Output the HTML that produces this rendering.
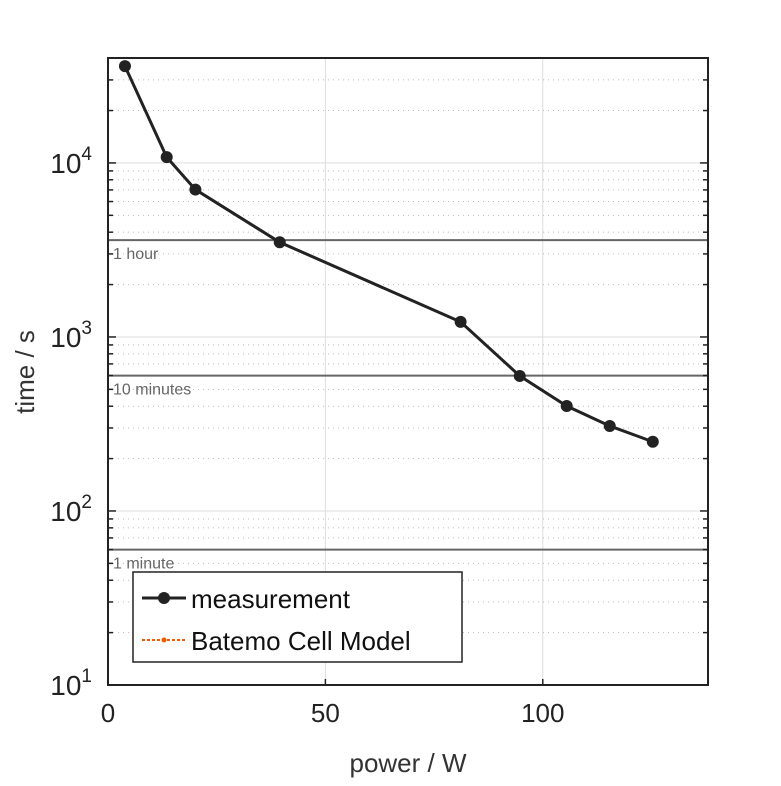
<!DOCTYPE html>
<html><head><meta charset="utf-8"><style>
body{margin:0;background:#fff;}
text{font-family:"Liberation Sans",sans-serif;}
</style></head><body>
<svg id="chart" width="781" height="781" xmlns="http://www.w3.org/2000/svg">
<g id="grid"></g>
<g id="refs"></g>
<g id="series"></g>
<rect x="108" y="58" width="600" height="627" fill="none" stroke="#222" stroke-width="2"/>
<g id="ticks"></g>
<text x="408" y="772" font-size="26" fill="#333" text-anchor="middle">power / W</text>
<text transform="translate(34,372) rotate(-90)" font-size="26" fill="#333" text-anchor="middle">time / s</text>
<g>
<rect x="133" y="572" width="329" height="90" fill="#fff" stroke="#222" stroke-width="1.5"/>
<line x1="142" y1="598" x2="186" y2="598" stroke="#222" stroke-width="3"/>
<circle cx="164" cy="598" r="6" fill="#222"/>
<text x="191" y="608" font-size="26" fill="#111">measurement</text>
<line x1="142" y1="640" x2="186" y2="640" stroke="#f05a00" stroke-width="2" stroke-dasharray="3,2"/>
<circle cx="164" cy="640" r="2.5" fill="#f05a00"/>
<text x="191" y="650" font-size="26" fill="#111">Batemo Cell Model</text>
</g>
</svg>
<script>
const powerW=[3.9,13.5,20.1,39.5,81.1,94.7,105.5,115.4,125.3];
const timeS=[36000,10800,7030,3500,1220,597,401,308,250];
const xTicks=[0,50,100];
const yDecades=[1,2,3,4];
const refValues=[3600,600,60];
const refLabels=["1 hour","10 minutes","1 minute"];
const X0=108,X1=708,Y0=685,Y1=58,XMAX=138,LMIN=1,LMAX=4.603;
const sx=v=>X0+(v/XMAX)*(X1-X0);
const sy=v=>Y0-(Math.log10(v)-LMIN)/(LMAX-LMIN)*(Y0-Y1);
const NS="http://www.w3.org/2000/svg";
function mk(p,t,a){const e=document.createElementNS(NS,t);for(const k in a)e.setAttribute(k,a[k]);p.appendChild(e);return e;}
const grid=document.getElementById('grid'),ticks=document.getElementById('ticks'),refs=document.getElementById('refs'),ser=document.getElementById('series');
xTicks.forEach(t=>{const x=sx(t);
 if(t>0){const g=mk(grid,'line',{x1:x,x2:x,y1:Y1,y2:Y0,stroke:'#ddd','stroke-width':1});
 
 }
 const tk=mk(ticks,'line',{x1:x,x2:x,y1:Y0,y2:Y0-6,stroke:'#222','stroke-width':1.5});
 
 
 const tx=mk(ticks,'text',{x:x,y:Y0+37,'font-size':26,fill:'#222','text-anchor':'middle'});tx.textContent=t;
 
 
});
yDecades.forEach(d=>{
 for(let m=1;m<10;m++){const v=m*Math.pow(10,d);const l=Math.log10(v);if(l>LMAX)break;const y=sy(v);
  if(m===1){if(d>1){const g=mk(grid,'line',{x1:X0,x2:X1,y1:y,y2:y,stroke:'#ddd','stroke-width':1});
   
   }}
  else{const g=mk(grid,'line',{x1:X0,x2:X1,y1:y,y2:y,stroke:'#bbb','stroke-width':1,'stroke-dasharray':'1,4'});
   
   }
  const len=m===1?8:5;
  const tk=mk(ticks,'line',{x1:X0,x2:X0+len,y1:y,y2:y,stroke:'#222','stroke-width':1.5});
  
  
  const tk2=mk(ticks,'line',{x1:X1,x2:X1-len,y1:y,y2:y,stroke:'#222','stroke-width':1.5});
  
  
 }
 const y=sy(Math.pow(10,d));
 const tx=mk(ticks,'text',{x:92,y:y+10,'font-size':28,fill:'#222','text-anchor':'end'});
 tx.innerHTML='10<tspan dy="-13" font-size="19">'+d+'</tspan>';
 
 
});
refValues.forEach((v,i)=>{const y=sy(v);
 const l=mk(refs,'line',{x1:X0,x2:X1,y1:y,y2:y,stroke:'#666','stroke-width':2});
 
 
 const t=mk(refs,'text',{x:113,y:y+19,'font-size':16,fill:'#666'});t.textContent=refLabels[i];
 
 
});
const pl=mk(ser,'polyline',{points:powerW.map((p,i)=>sx(p)+','+sy(timeS[i])).join(' '),fill:'none',stroke:'#222','stroke-width':3});


powerW.forEach((p,i)=>{const c=mk(ser,'circle',{cx:sx(p),cy:sy(timeS[i]),r:6,fill:'#222'});
 
 });
</script>
</body></html>
